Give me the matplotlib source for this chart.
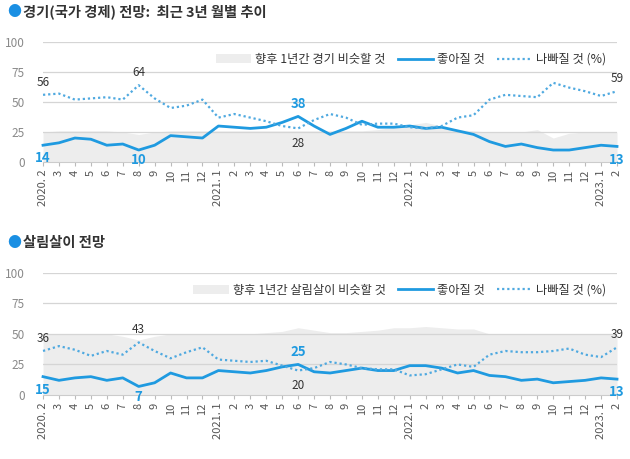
import numpy as np
import matplotlib
matplotlib.use("Agg")
import matplotlib.pyplot as plt

plt.rcParams['font.family'] = ['Noto Sans CJK KR', 'DejaVu Sans']

# months 2020.2 ~ 2023.2
tick_labels = ["2020. 2", "3", "4", "5", "6", "7", "8", "9", "10", "11", "12",
               "2021. 1", "2", "3", "4", "5", "6", "7", "8", "9", "10", "11", "12",
               "2022. 1", "2", "3", "4", "5", "6", "7", "8", "9", "10", "11", "12",
               "2023. 1", "2"]

# 경기 전망
econ_good = [14, 16, 20, 19, 14, 15, 10, 14, 22, 21, 20,
             30, 29, 28, 29, 33, 38, 30, 23, 28, 34, 29, 29,
             30, 28, 29, 26, 23, 17, 13, 15, 12, 10, 10, 12,
             14, 13]
econ_bad = [56, 57, 52, 53, 54, 52, 64, 53, 45, 47, 52,
            37, 40, 37, 34, 30, 28, 35, 40, 37, 31, 32, 32,
            29, 28, 30, 37, 39, 52, 56, 55, 54, 66, 62, 59,
            55, 59]
econ_same = [25, 26, 26, 26, 26, 25, 23, 25, 26, 26, 26,
             26, 26, 26, 26, 26, 26, 26, 26, 26, 26, 27, 29,
             31, 33, 30, 27, 26, 25, 25, 25, 27, 20, 24, 25,
             25, 25]

# 살림살이 전망
life_good = [15, 12, 14, 15, 12, 14, 7, 10, 18, 14, 14,
             20, 19, 18, 20, 23, 25, 19, 18, 20, 22, 20, 20,
             24, 24, 22, 18, 20, 16, 15, 12, 13, 10, 11, 12,
             14, 13]
life_bad = [36, 40, 37, 32, 36, 33, 43, 36, 30, 35, 39,
            29, 28, 27, 28, 24, 20, 22, 27, 25, 22, 21, 21,
            16, 17, 21, 25, 23, 33, 36, 35, 35, 36, 38, 33,
            31, 39]
life_same = [49, 50, 50, 50, 50, 48, 45, 48, 50, 50, 50,
             50, 50, 50, 51, 52, 55, 53, 51, 51, 52, 53, 55,
             55, 56, 55, 54, 54, 50, 50, 50, 50, 50, 50, 50,
             50, 50]

blue = "#1f9ae0"
blue_dot = "#4fa9e0"
gray_fill = "#ededed"
grid_c = "#d5d5d5"
dark = "#333333"

x = np.arange(len(tick_labels))

fig = plt.figure(figsize=(6.3, 4.59), dpi=100)


def draw_panel(ax, good, bad, same, same_label, labels):
    ax.fill_between(x, 0, same, color=gray_fill, lw=0, zorder=0.5, label=same_label)
    for v in [25, 50, 75, 100]:
        ax.axhline(v, color=grid_c, lw=0.9, zorder=1)
    ax.plot(x, good, color=blue, lw=2.0, zorder=3, clip_on=False, label="좋아질 것")
    ax.plot(x, bad, color=blue_dot, lw=1.6, ls=(0, (1, 1.3)), zorder=3,
            clip_on=False, label="나빠질 것 (%)")
    ax.set_xlim(0, len(x) - 1)
    ax.set_ylim(0, 100)
    ax.set_yticks([0, 25, 50, 75, 100])
    ax.tick_params(axis='y', length=0, pad=13, labelsize=8.5, labelcolor="#8a8a8a")
    ax.set_xticks(x)
    ax.set_xticklabels(tick_labels, rotation=90, fontsize=8, color="#555555")
    ax.tick_params(axis='x', length=3, color="#bbbbbb", pad=2.5)
    for s in ["top", "right", "left"]:
        ax.spines[s].set_visible(False)
    ax.spines["bottom"].set_color("#cccccc")
    ax.legend(loc="upper right", bbox_to_anchor=(1.0, 1.0), ncol=3, frameon=False,
              fontsize=8.8, handlelength=2.9, columnspacing=1.0, handletextpad=0.3,
              labelcolor=dark)
    for i, off, col, bold in labels:
        data = good if col == blue else bad
        ax.annotate(str(data[i]), (i, data[i]), xytext=(0, off), textcoords="offset points",
                    ha="center", va="center", color=col,
                    fontsize=9.5 if bold else 8.5, fontweight="bold" if bold else "normal",
                    zorder=4, annotation_clip=False)


point_labels = [(0, 9, dark, False), (6, 9, dark, False), (36, 9, dark, False),
                (16, -11, dark, False),
                (16, 9, blue, True), (0, -9.5, blue, True), (6, -7.5, blue, True),
                (36, -9.5, blue, True)]

ax1 = fig.add_axes([0.0683, 0.647, 0.9111, 0.2615])
draw_panel(ax1, econ_good, econ_bad, econ_same, "향후 1년간 경기 비슷할 것", point_labels)

ax2 = fig.add_axes([0.0683, 0.1394, 0.9111, 0.2665])
draw_panel(ax2, life_good, life_bad, life_same, "향후 1년간 살림살이 비슷할 것", point_labels)

fig.text(0.012, 0.974, "●", color="#1a8fe3", fontsize=10, va="center", ha="left")
fig.text(0.036, 0.974, "경기(국가 경제) 전망:  최근 3년 월별 추이", color=dark,
         fontsize=10.3, fontweight="bold", va="center", ha="left")
fig.text(0.012, 0.471, "●", color="#1a8fe3", fontsize=10, va="center", ha="left")
fig.text(0.036, 0.471, "살림살이 전망", color=dark,
         fontsize=10.3, fontweight="bold", va="center", ha="left")

fig.savefig("out.png", dpi=100)
